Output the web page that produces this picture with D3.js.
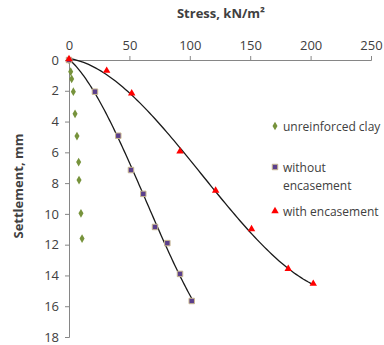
<!DOCTYPE html>
<html>
<head>
<meta charset="utf-8">
<script src="https://cdn.jsdelivr.net/npm/d3@7"></script>
<style>
  body { margin: 0; background: #fff; }
  text { font-family: "Open Sans", sans-serif; fill: #404040; }
</style>
</head>
<body>
<div id="chart"></div>
<script>
// stress (kN/m2) vs settlement (mm)
const clayStress = [0, 1.4, 2.2, 3.6, 5, 6.6, 8, 8.3, 9.9, 10.8];
const claySettle = [0, 0.76, 1.23, 2.06, 3.5, 4.94, 6.63, 7.8, 9.96, 11.6];

const withoutStress = [0, 21.5, 40.8, 51.3, 61.5, 71.2, 81.4, 91.9, 101.6];
const withoutSettle = [0, 2.06, 4.92, 7.15, 8.7, 10.85, 11.9, 13.9, 15.66];

const withStress = [0, 31.2, 51.9, 91.9, 121.4, 151.1, 181.5, 202.2];
const withSettle = [0, 0.76, 2.23, 6.0, 8.55, 11.05, 13.64, 14.6];

const xTicks = [0, 50, 100, 150, 200, 250];
const yTicks = [0, 2, 4, 6, 8, 10, 12, 14, 16, 18];

const width = 384, height = 345;
const x = d3.scaleLinear().domain([0, 250]).range([69, 371]);
const y = d3.scaleLinear().domain([0, 18]).range([60, 337]);

const svg = d3.select('#chart').append('svg')
  .attr('width', width).attr('height', height);

// axes
const xAxis = svg.append('g')
  .attr('transform', `translate(0,${y(0)})`)
  .call(d3.axisTop(x).tickValues(xTicks).tickSize(4).tickPadding(6));
const yAxis = svg.append('g')
  .attr('transform', `translate(${x(0)},0)`)
  .call(d3.axisLeft(y).tickValues(yTicks).tickSize(4).tickPadding(6));
[xAxis, yAxis].forEach(g => {
  g.selectAll('path, line').attr('stroke', '#868686');
  g.selectAll('text').style('font-size', '13px').attr('fill', '#404040')
    .style('font-family', '"Open Sans", sans-serif');
});

svg.append('text')
  .attr('x', 221).attr('y', 18)
  .attr('text-anchor', 'middle')
  .style('font-size', '13px').style('font-weight', 'bold')
  .text('Stress, kN/m²');

svg.append('text')
  .attr('transform', `translate(23,186) rotate(-90)`)
  .attr('text-anchor', 'middle')
  .style('font-size', '13px').style('font-weight', 'bold')
  .text('Settlement, mm');

// polynomial trendline (least squares, order 3)
function fitPoly(xs, ys, order) {
  const n = order + 1;
  const A = d3.range(n).map(() => new Array(n + 1).fill(0));
  xs.forEach((v, k) => {
    for (let i = 0; i < n; i++) {
      for (let j = 0; j < n; j++) A[i][j] += Math.pow(v, i + j);
      A[i][n] += Math.pow(v, i) * ys[k];
    }
  });
  for (let i = 0; i < n; i++) {
    let p = i;
    for (let r = i + 1; r < n; r++) if (Math.abs(A[r][i]) > Math.abs(A[p][i])) p = r;
    [A[i], A[p]] = [A[p], A[i]];
    for (let r = 0; r < n; r++) {
      if (r === i) continue;
      const f = A[r][i] / A[i][i];
      for (let c = i; c <= n; c++) A[r][c] -= f * A[i][c];
    }
  }
  const coef = A.map((row, i) => row[n] / row[i]);
  return v => coef.reduce((s, c, i) => s + c * Math.pow(v, i), 0);
}

const line = d3.line().x(d => x(d[0])).y(d => y(d[1]));
[[withoutStress, withoutSettle], [withStress, withSettle]].forEach(([xs, ys]) => {
  const f = fitPoly(xs, ys, 3);
  const pts = d3.range(0, 101).map(i => {
    const s = d3.max(xs) * i / 100;
    return [s, f(s)];
  });
  svg.append('path').attr('d', line(pts))
    .attr('fill', 'none').attr('stroke', '#1a1a1a').attr('stroke-width', 1.3);
});

const diamond = d3.symbol().type(d3.symbolDiamond).size(22);
const square = d3.symbol().type(d3.symbolSquare).size(30);
const triangle = d3.symbol().type(d3.symbolTriangle).size(24);

svg.append('g').selectAll('path').data(d3.zip(clayStress, claySettle)).join('path')
  .attr('d', diamond)
  .attr('transform', d => `translate(${x(d[0])},${y(d[1])})`)
  .attr('fill', '#77933c');

svg.append('g').selectAll('path').data(d3.zip(withoutStress, withoutSettle)).join('path')
  .attr('d', square)
  .attr('transform', d => `translate(${x(d[0])},${y(d[1])})`)
  .attr('fill', '#5b3f8c').attr('stroke', '#c9b890').attr('stroke-width', 1);

svg.append('g').selectAll('path').data(d3.zip(withStress, withSettle)).join('path')
  .attr('d', triangle)
  .attr('transform', d => `translate(${x(d[0])},${y(d[1]) - 1})`)
  .attr('fill', '#ff0000');

// legend
const legend = [
  { sym: diamond, fill: '#77933c', stroke: 'none', y: 126, lines: ['unreinforced clay'] },
  { sym: square, fill: '#5b3f8c', stroke: '#c9b890', y: 167, lines: ['without', 'encasement'] },
  { sym: triangle, fill: '#ff0000', stroke: 'none', y: 211, lines: ['with encasement'] }
];
const lg = svg.append('g').selectAll('g').data(legend).join('g')
  .attr('transform', d => `translate(275,${d.y})`);
lg.append('path').attr('d', d => d.sym())
  .attr('fill', d => d.fill).attr('stroke', d => d.stroke);
lg.append('text')
  .attr('x', 8).attr('y', 4.5)
  .style('font-size', '12px')
  .selectAll('tspan').data(d => d.lines).join('tspan')
  .attr('x', 8).attr('dy', (d, i) => i ? 18 : 0)
  .text(d => d);
</script>
</body>
</html>
